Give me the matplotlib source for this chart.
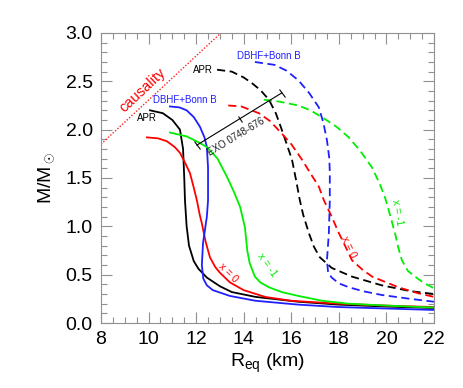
import matplotlib
matplotlib.use("Agg")
import matplotlib.pyplot as plt
from matplotlib.ticker import MultipleLocator
from matplotlib.markers import MarkerStyle

plt.rcParams['font.family'] = ['Liberation Sans', 'DejaVu Sans']
plt.rcParams['mathtext.fontset'] = 'custom'
plt.rcParams['mathtext.rm'] = 'Liberation Sans'

# mass-radius curves, solid = static, dashed = rotating
apr_r = [10.06, 10.6, 11.0, 11.32, 11.45, 11.5, 11.53, 11.6, 11.7, 11.9, 12.1, 12.45, 13.0, 13.5, 14.5, 16.3, 18.0, 20.0, 22.0]
apr_m = [2.20, 2.17, 2.10, 2.00, 1.80, 1.50, 1.27, 1.00, 0.80, 0.64, 0.56, 0.47, 0.38, 0.32, 0.27, 0.22, 0.19, 0.17, 0.155]

x0_r = [9.93, 10.4, 10.77, 11.1, 11.32, 11.55, 11.74, 11.9, 12.03, 12.15, 12.24, 12.4, 12.58, 12.8, 13.0, 13.42, 14.0, 14.9, 16.0, 18.0, 20.0, 22.0]
x0_m = [1.92, 1.91, 1.88, 1.82, 1.76, 1.65, 1.55, 1.40, 1.27, 1.12, 1.03, 0.84, 0.68, 0.58, 0.52, 0.42, 0.34, 0.27, 0.23, 0.20, 0.18, 0.165]

dbhf_r = [10.9, 11.3, 11.6, 11.9, 12.16, 12.35, 12.45, 12.5, 12.5, 12.45, 12.35, 12.29, 12.24, 12.3, 12.45, 12.7, 13.42, 14.5, 16.3, 18.0, 20.0, 22.0]
dbhf_m = [2.24, 2.23, 2.20, 2.13, 2.03, 1.92, 1.82, 1.61, 1.27, 1.10, 0.93, 0.83, 0.60, 0.46, 0.39, 0.34, 0.28, 0.23, 0.19, 0.165, 0.15, 0.135]

xm1_r = [10.9, 11.6, 12.1, 12.45, 12.9, 13.3, 13.6, 13.85, 14.05, 14.15, 14.25, 14.47, 14.7, 15.06, 15.6, 16.3, 17.3, 18.4, 20.0, 22.0]
xm1_m = [1.97, 1.93, 1.87, 1.82, 1.70, 1.51, 1.35, 1.20, 0.99, 0.75, 0.62, 0.48, 0.42, 0.37, 0.32, 0.28, 0.23, 0.20, 0.18, 0.16]

apr_rot_r = [12.88, 13.5, 14.0, 14.35, 14.7, 15.06, 15.35, 15.6, 15.85, 16.03, 16.2, 16.36, 16.5, 16.74, 16.95, 17.2, 17.7, 18.55, 19.8, 21.0, 22.0]
apr_rot_m = [2.62, 2.60, 2.54, 2.48, 2.41, 2.31, 2.17, 2.00, 1.82, 1.69, 1.48, 1.27, 1.12, 0.93, 0.79, 0.68, 0.57, 0.48, 0.39, 0.33, 0.30]

x0_rot_r = [13.35, 13.9, 14.64, 15.1, 15.6, 16.0, 16.45, 16.8, 17.16, 17.37, 17.7, 18.0, 18.3, 18.55, 19.0, 19.4, 20.5, 21.3, 22.0]
x0_rot_m = [2.25, 2.24, 2.17, 2.09, 1.96, 1.85, 1.69, 1.55, 1.41, 1.27, 1.10, 0.93, 0.78, 0.65, 0.55, 0.48, 0.37, 0.31, 0.27]

dbhf_rot_r = [14.47, 15.3, 15.8, 16.3, 16.75, 17.16, 17.35, 17.5, 17.6, 17.62, 17.62, 17.58, 17.5, 17.55, 17.7, 18.0, 18.42, 19.0, 19.8, 21.0, 22.0]
dbhf_rot_m = [2.70, 2.67, 2.61, 2.51, 2.38, 2.23, 2.07, 1.89, 1.70, 1.55, 1.27, 0.93, 0.65, 0.52, 0.47, 0.41, 0.37, 0.33, 0.29, 0.25, 0.22]

xm1_rot_r = [14.85, 15.5, 16.3, 16.8, 17.29, 17.9, 18.42, 18.9, 19.39, 19.7, 19.94, 20.15, 20.36, 20.5, 20.65, 20.9, 21.2, 21.6, 22.0]
xm1_rot_m = [2.31, 2.29, 2.25, 2.20, 2.13, 2.03, 1.92, 1.78, 1.61, 1.45, 1.30, 1.12, 0.93, 0.78, 0.65, 0.54, 0.48, 0.41, 0.36]

# causality limit and EXO 0748-676 constraint
caus_r = [8.0, 13.04]
caus_m = [1.85, 3.0]
exo_r = [12.03, 15.6]
exo_m = [1.84, 2.38]
exo_mid = (13.84, 2.11)

fig = plt.figure(figsize=(4.64, 3.88), dpi=100)
ax = fig.add_axes([0.2177, 0.1675, 0.7176, 0.7475])

lw = 1.3
dash = (0, (4.5, 2.5))
ax.plot(apr_r, apr_m, color='black', lw=lw)
ax.plot(x0_r, x0_m, color='red', lw=lw)
ax.plot(dbhf_r, dbhf_m, color='#2020ff', lw=lw)
ax.plot(xm1_r, xm1_m, color='#00ee00', lw=lw)
ax.plot(apr_rot_r, apr_rot_m, color='black', lw=lw, ls=dash)
ax.plot(x0_rot_r, x0_rot_m, color='red', lw=lw, ls=dash)
ax.plot(dbhf_rot_r, dbhf_rot_m, color='#2020ff', lw=lw, ls=dash)
ax.plot(xm1_rot_r, xm1_rot_m, color='#00ee00', lw=lw, ls=dash)

ax.plot(caus_r, caus_m, color='#ff2020', lw=1.0, ls=(0, (1, 1.3)))
ax.text(9.77, 2.41, 'causality', color='red', fontsize=10.5, rotation=43,
        ha='center', va='center')

# EXO error bar
cap = MarkerStyle('|').rotated(deg=31)
ax.plot(exo_r, exo_m, color='black', lw=0.8)
ax.plot(exo_r, exo_m, ls='none', marker=cap, color='black', ms=7, mew=0.8)
ax.plot(exo_mid[0], exo_mid[1], marker=cap, color='black', ms=4.5, mew=0.8)
ax.text(13.68, 1.93, 'EXO 0748-676', fontsize=7, rotation=31, ha='center', va='center',
        rotation_mode='anchor', color='#222222')

# labels
ax.text(9.93, 2.12, 'APR', fontsize=7, ha='center', va='center')
ax.text(11.53, 2.31, 'DBHF+Bonn B', fontsize=7, color='#2020ff', ha='center', va='center')
ax.text(12.29, 2.62, 'APR', fontsize=7, ha='center', va='center')
ax.text(15.06, 2.76, 'DBHF+Bonn B', fontsize=7, color='#2020ff', ha='center', va='center')
ax.text(13.36, 0.52, 'x = 0', fontsize=7.5, color='red', rotation=-45, ha='center', va='center')
ax.text(14.98, 0.60, 'x = -1', fontsize=7.5, color='#00ee00', rotation=-55, ha='center', va='center')
ax.text(18.4, 0.79, 'x = 0', fontsize=7.5, color='red', rotation=-65, ha='center', va='center')
ax.text(20.45, 1.14, 'x = -1', fontsize=7.5, color='#00ee00', rotation=-80, ha='center', va='center')

ax.set_xlim(8, 22)
ax.set_ylim(0, 3.0)
ax.xaxis.set_major_locator(MultipleLocator(2))
ax.xaxis.set_minor_locator(MultipleLocator(0.5))
ax.yaxis.set_major_locator(MultipleLocator(0.5))
ax.yaxis.set_minor_locator(MultipleLocator(0.1))
ax.set_xticks([8, 10, 12, 14, 16, 18, 20, 22])
ax.set_xticklabels(['8', '10', '12', '14', '16', '18', '20', '22'])
ax.set_yticks([0, 0.5, 1.0, 1.5, 2.0, 2.5, 3.0])
ax.set_yticklabels(['0.0', '0.5', '1.0', '1.5', '2.0', '2.5', '3.0'])
ax.tick_params(which='both', direction='in', top=True, right=True, color='#909090',
               labelsize=14, width=0.8)
ax.tick_params(which='major', length=8, pad=6)
ax.tick_params(which='minor', length=4)
for s in ax.spines.values():
    s.set_color('#909090')
    s.set_linewidth(0.8)

ax.set_xlabel(r'R$_{\rm eq}$ (km)', fontsize=14, labelpad=2)
ax.set_ylabel(r'M/M$_\odot$', fontsize=14, labelpad=6)

fig.savefig('out.png', dpi=100)
